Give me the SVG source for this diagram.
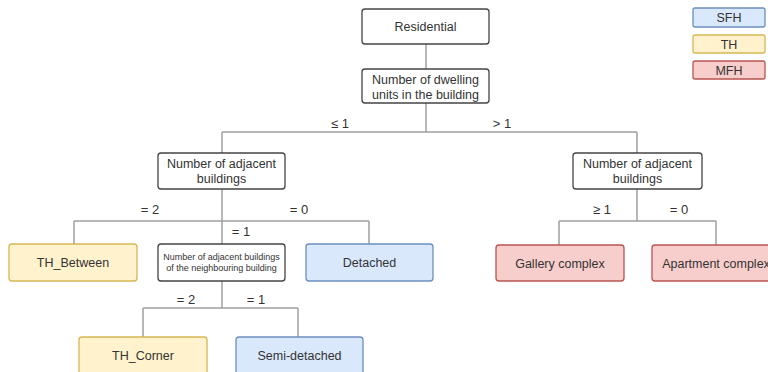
<svg xmlns="http://www.w3.org/2000/svg" width="768" height="372" viewBox="0 0 768 372">
<style>
text{font-family:"Liberation Sans",Arial,sans-serif;font-size:12.5px;fill:#333;text-anchor:middle;}
.q{fill:#fff;stroke:#444;stroke-width:1.3;}
.sfh{fill:#dae8fc;stroke:#6c8ebf;stroke-width:1.3;}
.th{fill:#fff2cc;stroke:#d6b656;stroke-width:1.3;}
.mfh{fill:#f8cecc;stroke:#b85450;stroke-width:1.3;}
.c{fill:none;stroke:#a0a0a0;stroke-width:1.5;}
.s{font-size:9px;}
.l{font-size:13px;}
</style>
<rect width="768" height="372" fill="#fff"/>
<g id="connectors">
<path class="c" d="M426 44V69"/>
<path class="c" d="M426 103V132M222 132H637M222 132V153M637 132V153"/>
<path class="c" d="M222 189V245M74 221H369M74 221V244M369 221V244"/>
<path class="c" d="M222 281V308M143 308H298M143 308V337M298 308V337"/>
<path class="c" d="M637 189V221M559 221H716M559 221V245M716 221V245"/>
</g>
<g id="edge-labels">
<text class="l" x="340" y="128">≤ 1</text>
<text class="l" x="502" y="128">&gt; 1</text>
<text class="l" x="150" y="214">= 2</text>
<text class="l" x="299" y="214">= 0</text>
<text class="l" x="241" y="236">= 1</text>
<text class="l" x="186" y="304">= 2</text>
<text class="l" x="256" y="304">= 1</text>
<text class="l" x="602" y="214">≥ 1</text>
<text class="l" x="679" y="214">= 0</text>
</g>
<g id="residential"><rect class="q" x="362" y="9" width="127" height="35" rx="3"/><text x="425.5" y="31">Residential</text></g>
<g id="dwelling"><rect class="q" x="362" y="69" width="127" height="34" rx="3"/><text x="425.5" y="84">Number of dwelling</text><text x="425.5" y="98.5">units in the building</text></g>
<g id="adjL"><rect class="q" x="158" y="153" width="127" height="36" rx="3"/><text x="221.5" y="168">Number of adjacent</text><text x="221.5" y="183">buildings</text></g>
<g id="adjR"><rect class="q" x="573" y="153" width="129" height="36" rx="3"/><text x="637.5" y="168">Number of adjacent</text><text x="637.5" y="183">buildings</text></g>
<g id="th-between"><rect class="th" x="9" y="244" width="128" height="37" rx="3"/><text x="73" y="267">TH_Between</text></g>
<g id="neigh"><rect class="q" x="158" y="244" width="127" height="37" rx="3"/><text class="s" x="221.5" y="260">Number of adjacent buildings</text><text class="s" x="221.5" y="271">of the neighbouring building</text></g>
<g id="detached"><rect class="sfh" x="306" y="244" width="127" height="37" rx="3"/><text x="369.5" y="267">Detached</text></g>
<g id="th-corner"><rect class="th" x="79" y="337" width="128" height="40" rx="3"/><text x="143" y="360">TH_Corner</text></g>
<g id="semi"><rect class="sfh" x="236" y="337" width="127" height="40" rx="3"/><text x="299.5" y="360">Semi-detached</text></g>
<g id="gallery"><rect class="mfh" x="496" y="245" width="128" height="36" rx="3"/><text x="560" y="268">Gallery complex</text></g>
<g id="apartment"><rect class="mfh" x="652" y="245" width="128" height="36" rx="3"/><text x="716" y="268">Apartment complex</text></g>
<g id="legend-sfh"><rect class="sfh" x="693" y="8" width="72" height="19" rx="2"/><text x="729" y="22">SFH</text></g>
<g id="legend-th"><rect class="th" x="693" y="35" width="72" height="18" rx="2"/><text x="729" y="48.5">TH</text></g>
<g id="legend-mfh"><rect class="mfh" x="693" y="61" width="72" height="18" rx="2"/><text x="729" y="74.5">MFH</text></g>
</svg>
